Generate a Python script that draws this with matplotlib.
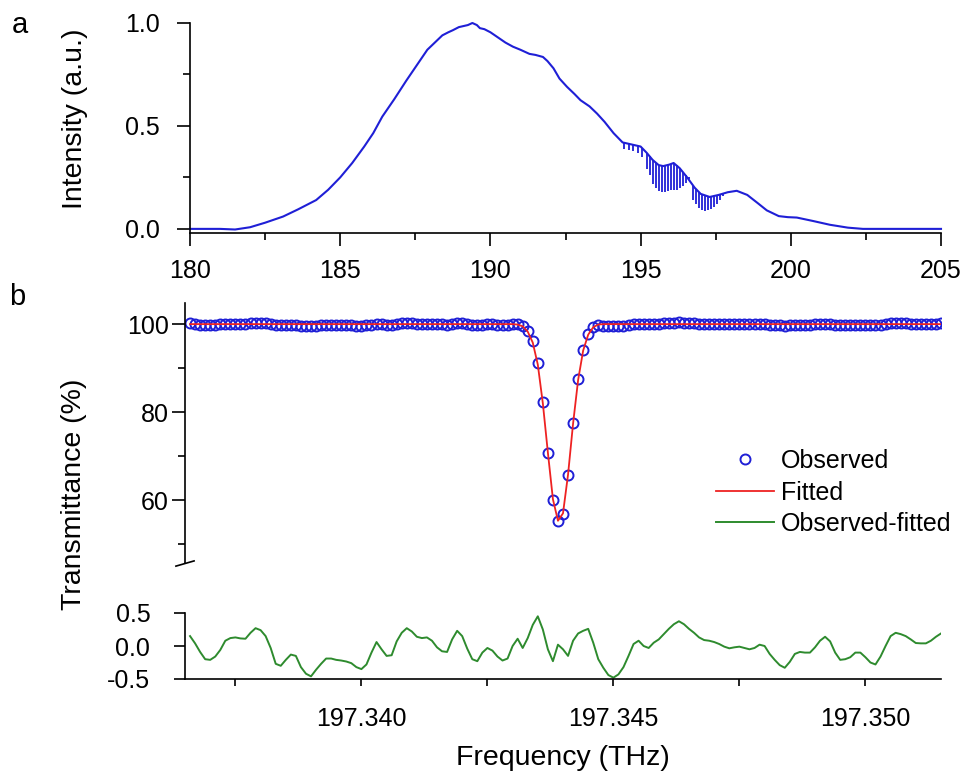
import numpy as np
import matplotlib
matplotlib.use('Agg')
import matplotlib.pyplot as plt
from matplotlib.ticker import MultipleLocator, FormatStrFormatter
from matplotlib.lines import Line2D

plt.rcParams['font.family'] = ['Liberation Sans', 'DejaVu Sans']
plt.rcParams['axes.unicode_minus'] = False

# panel a: emission spectrum (envelope)
spec_f = [180.0, 181.0, 181.5, 182.0, 182.5, 183.1, 183.6, 184.2, 184.6, 185.0,
          185.4, 185.8, 186.1, 186.4, 186.8, 187.2, 187.55, 187.9, 188.15, 188.4,
          188.6, 188.75, 188.95, 189.1, 189.25, 189.4, 189.55, 189.65, 189.8, 190.0,
          190.15, 190.3, 190.5, 190.75, 191.0, 191.3, 191.5, 191.75, 191.9, 192.1,
          192.3, 192.55, 192.8, 193.0, 193.3, 193.55, 193.8, 194.1, 194.4, 194.7,
          195.0, 195.2, 195.4, 195.6, 195.75, 195.95, 196.1, 196.3, 196.55, 196.8,
          197.0, 197.3, 197.6, 197.9, 198.2, 198.55, 198.9, 199.2, 199.6, 199.9,
          200.2, 200.75, 201.3, 201.9, 202.4, 203.0, 205.0]
spec_i = [0.0, 0.0, -0.003, 0.008, 0.03, 0.06, 0.095, 0.14, 0.19, 0.25,
          0.32, 0.40, 0.465, 0.545, 0.63, 0.72, 0.795, 0.87, 0.905, 0.94,
          0.955, 0.965, 0.98, 0.985, 0.99, 1.0, 0.99, 0.975, 0.97, 0.955,
          0.94, 0.925, 0.905, 0.885, 0.87, 0.85, 0.845, 0.835, 0.815, 0.78,
          0.73, 0.69, 0.655, 0.625, 0.595, 0.56, 0.52, 0.465, 0.42, 0.41,
          0.40, 0.37, 0.335, 0.31, 0.305, 0.312, 0.32, 0.295, 0.25, 0.20,
          0.17, 0.155, 0.165, 0.178, 0.185, 0.165, 0.125, 0.09, 0.062, 0.057,
          0.055, 0.038, 0.02, 0.006, 0.0, 0.0, 0.0]

# absorption lines of the comb region
dips_f = [194.45, 194.6, 194.75, 194.9, 195.05, 195.2, 195.3, 195.4, 195.5, 195.6,
          195.7, 195.8, 195.9, 196.0, 196.1, 196.2, 196.3, 196.4, 196.5, 196.6,
          196.75, 196.85, 196.95, 197.05, 197.15, 197.25, 197.35, 197.45, 197.55,
          197.65, 197.75]
dips_top = [0.418, 0.412, 0.408, 0.403, 0.393, 0.37, 0.352, 0.335, 0.322, 0.31,
            0.306, 0.305, 0.31, 0.316, 0.32, 0.31, 0.295, 0.277, 0.26, 0.24,
            0.21, 0.193, 0.177, 0.167, 0.162, 0.157, 0.156, 0.16, 0.164,
            0.167, 0.172]
dips_bot = [0.39, 0.385, 0.38, 0.37, 0.35, 0.29, 0.26, 0.22, 0.20, 0.185,
            0.18, 0.18, 0.185, 0.19, 0.19, 0.19, 0.20, 0.21, 0.225, 0.25,
            0.14, 0.12, 0.10, 0.09, 0.085, 0.09, 0.095, 0.105, 0.12,
            0.14, 0.16]

# panel b: single line scan, 0.1 GHz steps
freq_start = 197.3366
freq_step = 0.0001
n_pts = 150

# fitted transmittance, only the dip differs from 100 %
fit_dip_start = 64
fit_dip = [100.0, 99.9, 99.5, 98.3, 95.8, 90.8, 82.0, 70.8, 60.2, 55.3,
           57.0, 65.8, 77.4, 87.3, 94.0, 97.6, 99.3, 99.9]

# observed - fitted (%)
resid = [0.15, 0.04, -0.09, -0.2, -0.21, -0.16, -0.06, 0.08, 0.12, 0.13,
         0.115, 0.11, 0.2, 0.27, 0.24, 0.15, -0.03, -0.27, -0.3, -0.21,
         -0.13, -0.15, -0.32, -0.42, -0.46, -0.36, -0.27, -0.19, -0.19, -0.21,
         -0.22, -0.235, -0.26, -0.32, -0.35, -0.28, -0.1, 0.06, -0.05, -0.15,
         -0.14, 0.07, 0.2, 0.27, 0.22, 0.14, 0.12, 0.13, 0.08, -0.02,
         -0.08, -0.09, 0.1, 0.23, 0.15, -0.04, -0.2, -0.23, -0.1, -0.03,
         -0.07, -0.16, -0.22, -0.19, 0.0, 0.11, -0.03, 0.12, 0.32, 0.45,
         0.25, -0.05, -0.23, 0.02, -0.05, -0.15, 0.08, 0.19, 0.23, 0.26,
         0.05, -0.2, -0.33, -0.44, -0.48, -0.43, -0.32, -0.15, 0.03, 0.08,
         0.0, -0.03, 0.05, 0.1, 0.18, 0.26, 0.33, 0.375, 0.33, 0.26,
         0.2, 0.13, 0.09, 0.08, 0.06, 0.03, -0.01, -0.035, -0.02, -0.01,
         -0.03, -0.05, -0.03, 0.02, 0.0, -0.12, -0.21, -0.29, -0.33, -0.24,
         -0.12, -0.09, -0.1, -0.1, -0.02, 0.08, 0.14, 0.07, -0.1, -0.21,
         -0.2, -0.17, -0.1, -0.1, -0.17, -0.25, -0.28, -0.16, 0.0, 0.15,
         0.2, 0.18, 0.15, 0.1, 0.045, 0.04, 0.04, 0.08, 0.14, 0.19]

freq = freq_start + freq_step * np.arange(n_pts)
fitted = np.full(n_pts, 100.0)
fitted[fit_dip_start:fit_dip_start + len(fit_dip)] = fit_dip
observed = fitted + np.array(resid)

c_blue = '#1f1fd6'
c_red = '#ee2222'
c_green = '#2e8b2e'
tick_fs = 18
lab_fs = 20.5

W, H = 965, 774
fig = plt.figure(figsize=(W / 100, H / 100), dpi=100)

def px_axes(x0, y0, x1, y1):
    return fig.add_axes([x0 / W, 1 - y1 / H, (x1 - x0) / W, (y1 - y0) / H])

ax_a = px_axes(190, 23, 941, 233)
ax_b = px_axes(185, 303, 941, 563)
ax_r = px_axes(185, 613, 941, 679)

# ---- panel a
ax_a.plot(spec_f, spec_i, color=c_blue, lw=1.5, clip_on=False)
ax_a.vlines(dips_f, dips_bot, dips_top, color=c_blue, lw=1.3)
ax_a.set_xlim(180, 205)
ax_a.set_ylim(-0.02, 1.0)
ax_a.xaxis.set_major_locator(MultipleLocator(5))
ax_a.xaxis.set_minor_locator(MultipleLocator(2.5))
ax_a.yaxis.set_major_locator(MultipleLocator(0.5))
ax_a.yaxis.set_minor_locator(MultipleLocator(0.25))
ax_a.yaxis.set_major_formatter(FormatStrFormatter('%.1f'))
ax_a.tick_params(which='major', length=9.5, width=1.2, labelsize=tick_fs)
ax_a.tick_params(which='minor', length=5, width=1.2)
ax_a.tick_params(axis='x', pad=9)
ax_a.tick_params(axis='y', pad=12)
for s in ['top', 'right']:
    ax_a.spines[s].set_visible(False)
for s in ['left', 'bottom']:
    ax_a.spines[s].set_linewidth(1.2)

# ---- panel b, upper part
ax_b.plot(freq, fitted, color=c_red, lw=1.3, zorder=3)
ax_b.plot(freq, observed, 'o', mfc='none', mec=c_blue, ms=7.2, mew=1.4, zorder=2)
ax_b.set_xlim(197.3365, 197.3515)
ax_b.set_ylim(45.7, 104.8)
ax_b.yaxis.set_major_locator(MultipleLocator(20))
ax_b.yaxis.set_minor_locator(MultipleLocator(10))
ax_b.tick_params(which='major', length=9.5, width=1.2, labelsize=tick_fs, pad=2)
ax_b.tick_params(which='minor', length=5, width=1.2)
ax_b.tick_params(axis='x', which='both', bottom=False, labelbottom=False)
for s in ['top', 'right', 'bottom']:
    ax_b.spines[s].set_visible(False)
ax_b.spines['left'].set_linewidth(1.2)
# axis break mark
ax_b.plot([-0.012, 0.012], [-0.012, 0.008], transform=ax_b.transAxes,
          color='black', lw=1.2, clip_on=False)

# ---- residual
ax_r.plot(freq, resid, color=c_green, lw=1.4)
ax_r.set_xlim(197.3365, 197.3515)
ax_r.set_ylim(-0.5, 0.5)
ax_r.set_yticks([-0.5, 0.0, 0.5])
ax_r.yaxis.set_major_formatter(FormatStrFormatter('%.1f'))
ax_r.xaxis.set_major_locator(MultipleLocator(0.005))
ax_r.xaxis.set_minor_locator(MultipleLocator(0.0025))
ax_r.xaxis.set_major_formatter(FormatStrFormatter('%.3f'))
ax_r.tick_params(which='both', length=5, width=1.2, labelsize=tick_fs)
ax_r.tick_params(axis='x', pad=15)
ax_r.tick_params(axis='y', length=8, pad=17)
for s in ['top', 'right']:
    ax_r.spines[s].set_visible(False)
for s in ['left', 'bottom']:
    ax_r.spines[s].set_linewidth(1.2)

handles = [Line2D([], [], ls='none', marker='o', mfc='none', mec=c_blue, ms=7.2, mew=1.4),
           Line2D([], [], color=c_red, lw=1.3),
           Line2D([], [], color=c_green, lw=1.4)]
ax_b.legend(handles, ['Observed', 'Fitted', 'Observed-fitted'],
            loc='upper left', bbox_to_anchor=(716 / W, 1 - 449 / H),
            bbox_transform=fig.transFigure, frameon=False, fontsize=tick_fs,
            handlelength=2.3, handletextpad=0.3, labelspacing=0.3,
            borderpad=0, borderaxespad=0)

fig.text(75 / W, 1 - 119 / H, 'Intensity (a.u.)', rotation=90, fontsize=lab_fs,
         ha='center', va='center')
fig.text(74 / W, 1 - 494 / H, 'Transmittance (%)', rotation=90, fontsize=lab_fs,
         ha='center', va='center')
fig.text(563 / W, 1 - 758 / H, 'Frequency (THz)', fontsize=lab_fs,
         ha='center', va='center')
fig.text(20 / W, 1 - 25 / H, 'a', fontsize=21, ha='center', va='center')
fig.text(17 / W, 1 - 297 / H, 'b', fontsize=21, ha='center', va='center')

fig.savefig('out.png', dpi=100)
